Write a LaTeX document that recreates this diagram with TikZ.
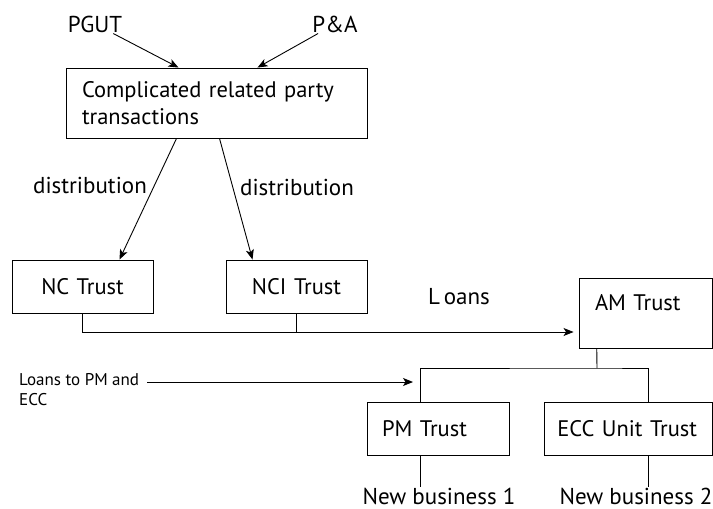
\documentclass[tikz,border=0pt]{standalone}
\usepackage{fontspec}
\setmainfont{PT Sans}
\usetikzlibrary{arrows.meta}
\tikzset{
  trust/.style={draw, rectangle, line width=0.9pt, inner sep=0pt, font=\fontsize{22.5}{27}\selectfont},
  lbl/.style={inner sep=1pt, font=\fontsize{23}{27}\selectfont},
  smalllbl/.style={inner sep=0pt, font=\fontsize{17}{20}\selectfont},
  arr/.style={-{Stealth[length=10pt,width=8pt,inset=2.5pt]}, line width=0.9pt},
  link/.style={line width=0.9pt},
}
\begin{document}
\begin{tikzpicture}[x=1pt,y=-1pt]
        \useasboundingbox (0,0) rectangle (713,509);
        %boxes
        \node[trust, minimum width=301, minimum height=70, text width=269, align=left] (crpt) at (216.5,103) {Complicated related party\\transactions};
        \node[trust, minimum width=141, minimum height=53, text width=141, align=center] (nc) at (82.5,286.5) {NC Trust};
        \node[trust, minimum width=141, minimum height=53, text width=141, align=center] (nci) at (296.5,286.5) {NCI Trust};
        \node[trust, minimum width=133.5, minimum height=70, text width=101.5, align=left, text depth=22pt] (am) at (645.75,313) {AM Trust};
        \node[trust, minimum width=142, minimum height=53, text width=112, align=left] (pm) at (438,428.5) {PM Trust};
        \node[trust, minimum width=168.5, minimum height=53, text width=142, align=left] (ecc) at (628.25,428.5) {ECC Unit Trust};
        %labels
        \node[lbl] (pgut) at (95,24) {PGUT};
        \node[lbl] (pa) at (335,24) {P\&A};
        \node[lbl] (dist1) at (90,185) {distribution};
        \node[lbl] (dist2) at (297,187) {distribution};
        \node[lbl] (loans) at (459,297) {L\,oans};
        \node[smalllbl, anchor=north west, align=left] (lpe) at (19,373) {Loans to PM and\\ECC};
        \node[lbl] (nb1) at (439,496) {New business 1};
        \node[lbl] (nb2) at (636,496) {New business 2};
        \coordinate (lpe1) at (147,382);
        \coordinate (lpe2) at (413,382);
        \coordinate (fork) at (597,368);
        %edges
        \draw[arr] (pgut) -- ([xshift=-38pt]crpt.north);
        \draw[arr] (pa) -- ([xshift=41pt]crpt.north);
        \draw[arr] ([xshift=-40pt]crpt.south) -- ([xshift=37pt]nc.north);
        \draw[arr] ([xshift=3pt]crpt.south) -- ([xshift=-44pt]nci.north);
        \draw[arr, shorten >=5pt] (nc.south) |- ([yshift=-19pt]am.west);
        \draw[link] (nci.south) -- ++(0,19);
        \draw[link] ([xshift=-49pt]am.south) -- (fork);
        \draw[link] ([xshift=-18pt]pm.north) |- (fork) -| ([xshift=20pt]ecc.north);
        \draw[arr] (lpe1) -- (lpe2);
        \draw[link] ([xshift=-18pt]pm.south) -- ++(0,32);
        \draw[link] ([xshift=20pt]ecc.south) -- ++(0,32);
\end{tikzpicture}
\end{document}
